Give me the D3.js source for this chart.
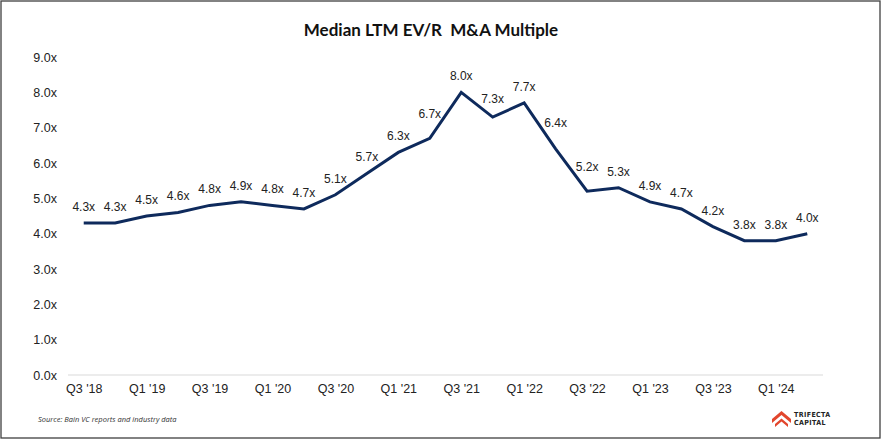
<!DOCTYPE html>
<html>
<head>
<meta charset="utf-8">
<script src="https://cdn.jsdelivr.net/npm/d3@7"></script>
<style>
  body { margin: 0; background: #fff; }
  svg { display: block; }
</style>
</head>
<body>
<svg id="chart" width="882" height="440"></svg>
<script>
// data
var quarters = ["Q3 '18","Q4 '18","Q1 '19","Q2 '19","Q3 '19","Q4 '19","Q1 '20","Q2 '20",
  "Q3 '20","Q4 '20","Q1 '21","Q2 '21","Q3 '21","Q4 '21","Q1 '22","Q2 '22",
  "Q3 '22","Q4 '22","Q1 '23","Q2 '23","Q3 '23","Q4 '23","Q1 '24","Q2 '24"];
var multiples = [4.3, 4.3, 4.5, 4.6, 4.8, 4.9, 4.8, 4.7, 5.1, 5.7, 6.3, 6.7,
  8.0, 7.3, 7.7, 6.4, 5.2, 5.3, 4.9, 4.7, 4.2, 3.8, 3.8, 4.0];
var yTicks = [0, 1, 2, 3, 4, 5, 6, 7, 8, 9];
var xTickLabels = ["Q3 '18","Q1 '19","Q3 '19","Q1 '20","Q3 '20","Q1 '21",
  "Q3 '21","Q1 '22","Q3 '22","Q1 '23","Q3 '23","Q1 '24"];

var svg = d3.select('#chart');
var font = 'Liberation Sans, Arial, sans-serif';

// border
svg.append('rect')
  .attr('x', 1).attr('y', 1)
  .attr('width', 879).attr('height', 437)
  .attr('fill', '#fff')
  .attr('stroke', '#404040')
  .attr('stroke-width', 1.3);

// title
svg.append('text')
  .attr('x', 431).attr('y', 36)
  .attr('text-anchor', 'middle')
  .attr('font-family', 'Lato, sans-serif')
  .attr('font-weight', 'bold')
  .attr('font-size', 17)
  .attr('fill', '#111')
  .attr('xml:space', 'preserve')
  .text('Median LTM EV/R  M&A Multiple');

var xScale = d3.scalePoint()
  .domain(quarters)
  .range([68, 823])
  .padding(0.5);

var yScale = d3.scaleLinear()
  .domain([0, 9])
  .range([375, 57]);

// y axis labels (no line, no ticks)
var yAxis = svg.append('g')
  .attr('transform', 'translate(57,0)')
  .call(d3.axisLeft(yScale).tickValues(yTicks).tickSize(0).tickPadding(0)
    .tickFormat(function(d) { return d.toFixed(1) + 'x'; }));
yAxis.select('.domain').remove();
yAxis.selectAll('text')
  .attr('font-family', font)
  .attr('font-size', 12.5)
  .attr('fill', '#222');

// baseline
svg.append('line')
  .attr('x1', 68).attr('x2', 823)
  .attr('y1', yScale(0)).attr('y2', yScale(0))
  .attr('stroke', '#d9d9d9')
  .attr('stroke-width', 1);

// x axis labels
var xAxis = svg.append('g')
  .attr('transform', 'translate(0,' + yScale(0) + ')')
  .call(d3.axisBottom(xScale).tickValues(xTickLabels).tickSize(0).tickPadding(9));
xAxis.select('.domain').remove();
xAxis.selectAll('text')
  .attr('font-family', font)
  .attr('font-size', 12.5)
  .attr('fill', '#222');

// line
var line = d3.line()
  .x(function(d, i) { return xScale(quarters[i]); })
  .y(function(d) { return yScale(d); });

svg.append('path')
  .datum(multiples)
  .attr('fill', 'none')
  .attr('stroke', '#0e2a5c')
  .attr('stroke-width', 3)
  .attr('d', line);

// y of the line at any x (linear between points)
function lineYAt(x) {
  var step = xScale.step();
  var x0 = xScale(quarters[0]);
  var t = (x - x0) / step;
  var i = Math.max(0, Math.min(multiples.length - 2, Math.floor(t)));
  var f = Math.max(0, Math.min(1, t - i));
  if (t < 0 || t > multiples.length - 1) return Infinity;
  return yScale(multiples[i] + (multiples[i + 1] - multiples[i]) * f);
}

// data labels above points, nudged up where the line would run through them
var labels = svg.selectAll('.lbl')
  .data(multiples)
  .join('text')
  .attr('class', 'lbl')
  .attr('x', function(d, i) { return xScale(quarters[i]); })
  .attr('text-anchor', 'middle')
  .attr('font-family', font)
  .attr('font-size', 12)
  .attr('fill', '#222')
  .text(function(d) { return d.toFixed(1) + 'x'; });

labels.each(function(d, i) {
  var x = xScale(quarters[i]);
  var hw = this.getComputedTextLength() / 2;
  var top = yScale(d);
  for (var k = -hw; k <= hw; k += 1) top = Math.min(top, lineYAt(x + k));
  var center = Math.min(yScale(d) - 16, top - 9);
  d3.select(this).attr('y', center + 4);
});

// source
svg.append('text')
  .attr('x', 38).attr('y', 422)
  .attr('font-family', 'Open Sans, sans-serif')
  .attr('font-style', 'italic')
  .attr('font-size', 7.5)
  .attr('fill', '#333')
  .text('Source: Bain VC reports and industry data');

// logo
var logo = svg.append('g').attr('transform', 'translate(772,410)');
logo.append('path')
  .attr('d', 'M0,9 L9.5,1 L19,9 L19,13 L9.5,5 L0,13 Z')
  .attr('fill', '#e2462d');
logo.append('path')
  .attr('d', 'M3,14 L9.5,8.5 L16,14 L16,17 L9.5,11.5 L3,17 Z')
  .attr('fill', '#e2462d');
logo.append('text')
  .attr('x', 22).attr('y', 6.5)
  .attr('font-family', 'DejaVu Sans Condensed, DejaVu Sans, sans-serif')
  .attr('font-weight', 'bold')
  .attr('font-size', 7)
  .attr('letter-spacing', 0.4)
  .attr('fill', '#222')
  .text('TRIFECTA');
logo.append('text')
  .attr('x', 22).attr('y', 15)
  .attr('font-family', 'DejaVu Sans Condensed, DejaVu Sans, sans-serif')
  .attr('font-weight', 'bold')
  .attr('font-size', 7)
  .attr('letter-spacing', 0.4)
  .attr('fill', '#222')
  .text('CAPITAL');
</script>
</body>
</html>
